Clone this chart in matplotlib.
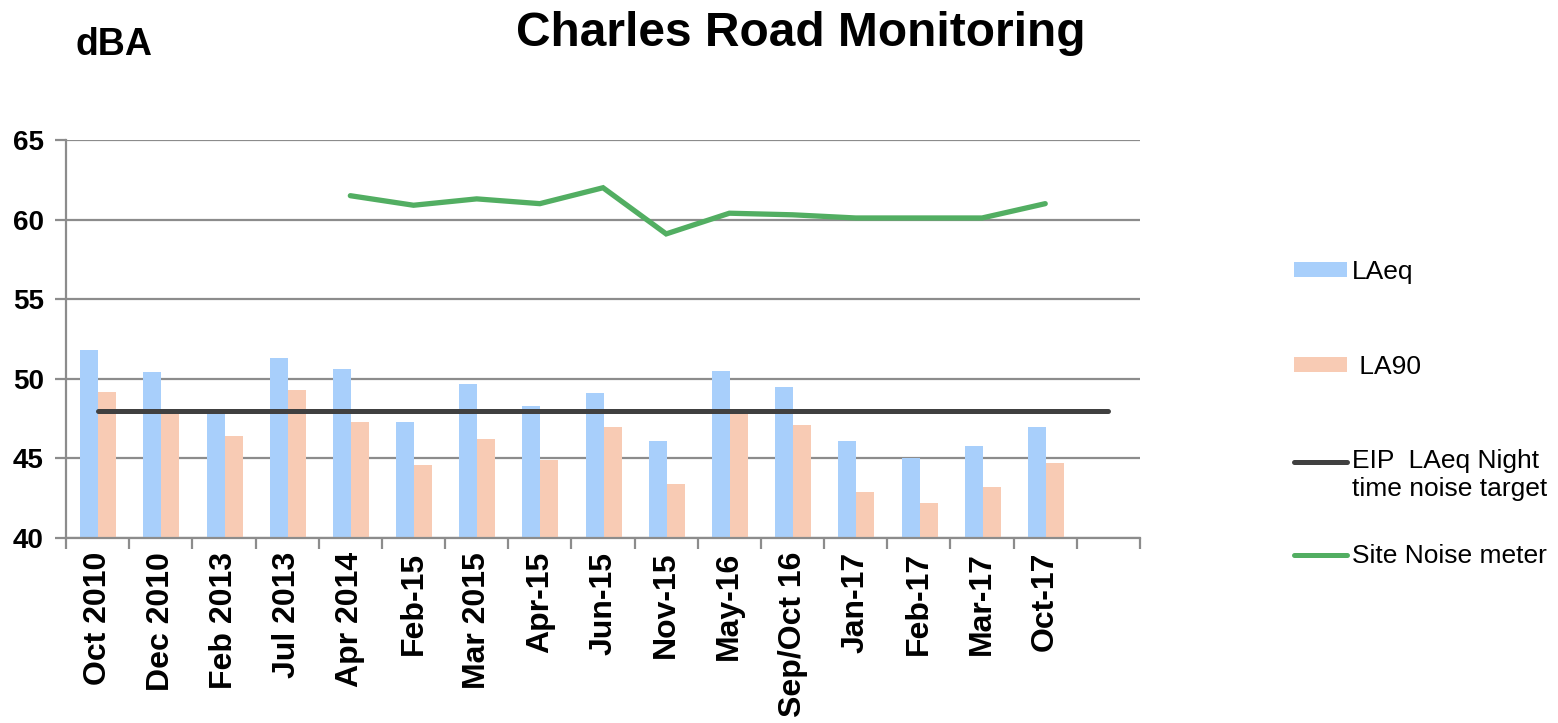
import numpy as np
import matplotlib
matplotlib.use("Agg")
import matplotlib.pyplot as plt
from matplotlib.patches import Patch
from matplotlib.lines import Line2D

plt.rcParams["font.family"] = ["Liberation Sans", "DejaVu Sans"]

# data
periods = ["Oct 2010", "Dec 2010", "Feb 2013", "Jul 2013", "Apr 2014", "Feb-15",
           "Mar 2015", "Apr-15", "Jun-15", "Nov-15", "May-16", "Sep/Oct 16",
           "Jan-17", "Feb-17", "Mar-17", "Oct-17", ""]
laeq = [51.8, 50.4, 48.0, 51.3, 50.6, 47.3, 49.7, 48.3, 49.1, 46.1, 50.5, 49.5,
        46.1, 45.0, 45.8, 47.0, np.nan]
la90 = [49.2, 48.0, 46.4, 49.3, 47.3, 44.6, 46.2, 44.9, 47.0, 43.4, 47.8, 47.1,
        42.9, 42.2, 43.2, 44.7, np.nan]
eip_target = [48] * 17
site_meter = [np.nan] * 4 + [61.5, 60.9, 61.3, 61.0, 62.0, 59.1, 60.4, 60.3,
                             60.1, 60.1, 60.1, 61.0, np.nan]

c_blue = "#a8cffb"
c_orange = "#f8cbb4"
c_black = "#404040"
c_green = "#52ae62"
c_grid = "#8c8c8c"

fig = plt.figure(figsize=(15.58, 7.23), dpi=100)
ax = fig.add_axes([0.0424, 0.2559, 0.6893, 0.5505])

x = np.arange(len(periods))
w = 0.285
ax.bar(x - w / 2 + 0.01, laeq, width=w, color=c_blue, zorder=2)
ax.bar(x + w / 2 + 0.01, la90, width=w, color=c_orange, zorder=2)
ax.plot(x, eip_target, color=c_black, lw=3.6, solid_capstyle="round", zorder=3)
ax.plot(x, site_meter, color=c_green, lw=3.8, solid_capstyle="round",
        solid_joinstyle="miter", zorder=3)

ax.set_ylim(40, 65)
ax.set_xlim(-0.5, len(periods) - 0.5)
ax.set_yticks([40, 45, 50, 55, 60, 65])
ax.yaxis.grid(True, color=c_grid, lw=1.6, zorder=0)
ax.set_axisbelow(True)

ax.set_xticks(x)
ax.set_xticklabels(periods, rotation=90, fontsize=23, fontweight="bold",
                   va="top", ha="center")
ax.set_xticks(np.arange(-0.5, len(periods)), minor=True)
ax.tick_params(axis="x", which="major", length=0, pad=10)
ax.tick_params(axis="x", which="minor", length=8, width=1.6, color=c_grid)
ax.tick_params(axis="y", length=8, width=1.6, color=c_grid, labelsize=20, pad=8)
for lab in ax.get_yticklabels():
    lab.set_fontweight("bold")

for s in ["top", "right"]:
    ax.spines[s].set_visible(False)
for s in ["left", "bottom"]:
    ax.spines[s].set_color(c_grid)
    ax.spines[s].set_linewidth(1.6)

fig.text(0.514, 0.954, "Charles Road Monitoring", ha="center", va="center",
         fontsize=34.5, fontweight="bold")
fig.text(0.0485, 0.938, "dBA", ha="left", va="center", fontsize=27,
         fontweight="bold")

# legend, one entry per box so the spacing matches
entries = [
    (Patch(facecolor=c_blue), "LAeq", 1 - 272 / 723, 0),
    (Patch(facecolor=c_orange), " LA90", 1 - 367 / 723, 0),
    (Line2D([], [], color=c_black, lw=3.6, solid_capstyle="round"),
     "EIP  LAeq Night\ntime noise target", 1 - 475 / 723, 10),
    (Line2D([], [], color=c_green, lw=3.6, solid_capstyle="round"),
     "Site Noise meter", 1 - 556 / 723, 0),
]
for h, lab, yy, lift in entries:
    leg = fig.legend([h], [lab], loc="center left", bbox_to_anchor=(0.8305, yy),
                     frameon=False, fontsize=19, handlelength=2.0,
                     handleheight=0.5, handletextpad=0.2, borderpad=0,
                     borderaxespad=0)
    if lift:
        # line sits level with the first line of the label
        lh = leg.legend_handles[0]
        lh.set_ydata(np.asarray(lh.get_ydata()) + lift)

fig.savefig("out.png", dpi=100)
